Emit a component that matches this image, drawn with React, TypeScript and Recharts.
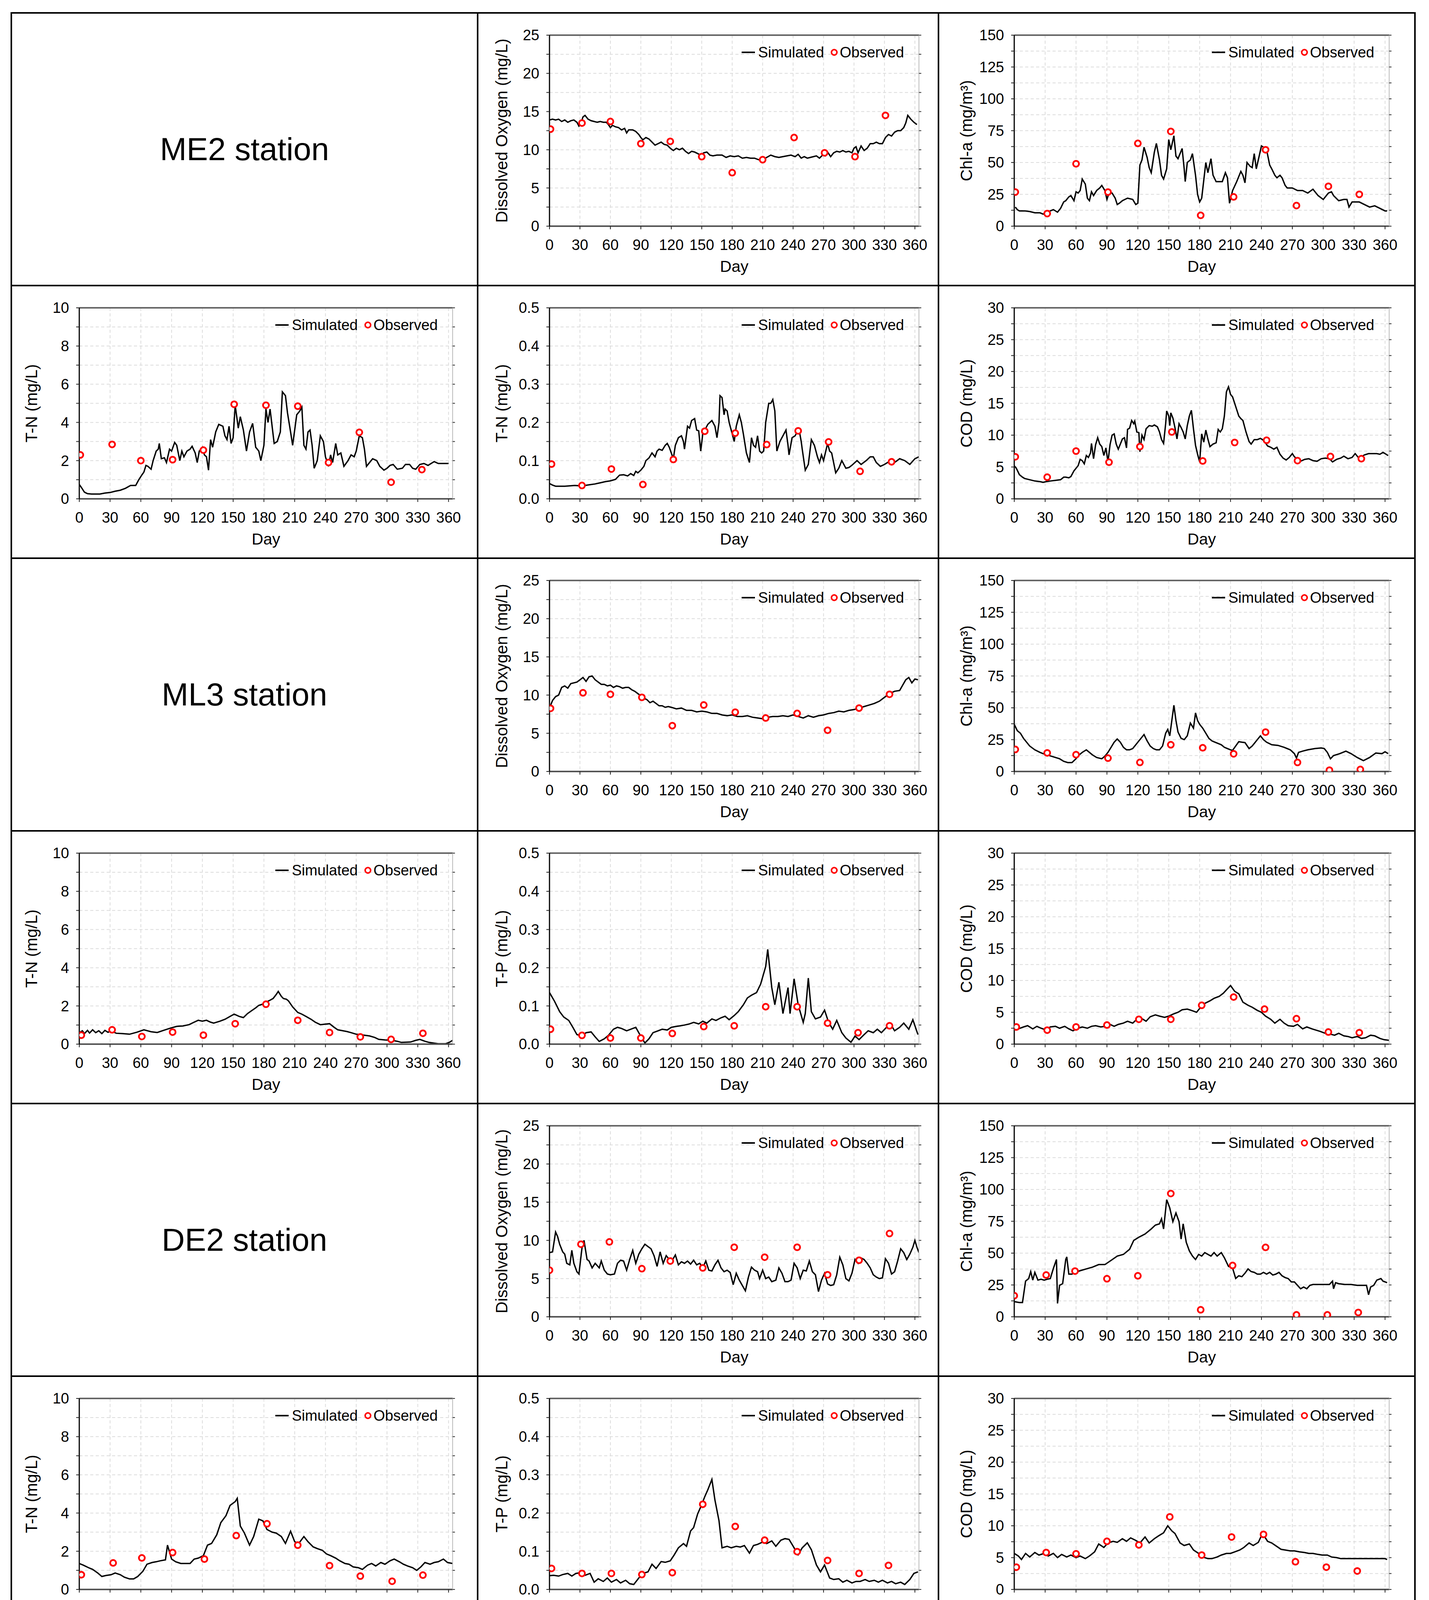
import React from 'react';
import { ComposedChart, Line, Scatter, XAxis, YAxis, CartesianGrid, ReferenceLine } from 'recharts';

type Pt = [number, number];

const FONT = '"Liberation Sans", Arial, Helvetica, sans-serif';
const ROW_H = 698;
const COL_W = [1194, 1180, 1220];
const BORDER = 2;
const PLOT_L = [172, 182, 192];
const PLOT_R = [62, 48, 64];
const PLOT_T = 55;
const PLOT_H = 489;

// tick labels
const dayTicks = [0, 30, 60, 90, 120, 150, 180, 210, 240, 270, 300, 330, 360];
const doTicks = [0, 2.5, 5, 7.5, 10, 12.5, 15, 17.5, 20, 22.5, 25];
const chlTicks = [0, 12.5, 25, 37.5, 50, 62.5, 75, 87.5, 100, 112.5, 125, 137.5, 150];
const tnTicks = [0, 1, 2, 3, 4, 5, 6, 7, 8, 9, 10];
const smallTicks = [0, 0.05, 0.1, 0.15, 0.2, 0.25, 0.3, 0.35, 0.4, 0.45, 0.5];
const codTicks = [0, 2.5, 5, 7.5, 10, 12.5, 15, 17.5, 20, 22.5, 25, 27.5, 30];

const stations = ['ME2 station', 'ML3 station', 'DE2 station', 'DL2 station'];

// ---------- ME2 ----------
const me2DoSim: Pt[] = [[0,13.9],[3,14.0],[6,13.9],[9,14.0],[12,13.7],[15,13.9],[18,13.6],[21,13.8],[24,13.9],[27,13.6],[29,13.1],[31,13.5],[33,14.3],[35,14.5],[38,14.0],[41,13.8],[44,13.7],[47,13.6],[50,13.7],[53,13.6],[56,13.6],[58,13.3],[60,12.9],[62,13.2],[65,13.0],[68,12.9],[71,12.6],[74,12.8],[76,12.2],[78,12.6],[82,12.6],[85,12.4],[88,12.0],[90,11.6],[92,11.3],[95,11.6],[98,11.4],[101,11.0],[104,10.6],[107,10.8],[110,11.0],[113,10.7],[116,10.6],[119,10.2],[122,9.9],[125,10.2],[128,10.0],[131,10.2],[134,9.8],[137,9.5],[140,9.8],[143,9.7],[146,9.5],[149,9.3],[152,9.6],[155,9.7],[158,9.3],[161,9.2],[165,9.3],[170,9.3],[174,9.0],[178,9.2],[182,9.1],[186,9.2],[190,8.9],[194,9.0],[198,8.9],[202,8.9],[206,8.7],[210,8.7],[214,9.0],[218,9.3],[222,9.1],[226,9.0],[230,9.1],[234,9.2],[238,9.3],[242,9.1],[245,9.4],[248,8.9],[251,9.1],[254,8.9],[257,9.0],[260,9.1],[263,9.2],[266,8.9],[269,9.3],[272,9.2],[274,9.7],[277,9.1],[280,9.6],[283,9.8],[286,9.7],[289,9.9],[292,9.7],[295,9.8],[298,9.6],[300,10.2],[302,10.4],[304,9.6],[307,10.5],[310,9.9],[313,10.2],[316,10.8],[319,10.8],[322,11.0],[325,10.8],[328,10.8],[331,11.6],[334,12.0],[337,11.8],[340,12.3],[343,12.5],[346,12.5],[349,12.9],[351,13.5],[353,14.5],[356,14.0],[359,13.6],[362,13.3]];
const me2DoObs: Pt[] = [[1,12.7],[32,13.5],[60,13.7],[90,10.8],[119,11.1],[150,9.1],[180,7.0],[210,8.7],[241,11.6],[271,9.6],[301,9.1],[331,14.5]];

const me2ChlSim: Pt[] = [[1,15],[3,13],[5,12],[10,12],[15,11.5],[20,10.5],[25,10.5],[28,9.5],[30,10],[33,11],[35,12],[38,13],[40,12],[42,11],[45,14],[48,19],[50,20],[53,23],[55,24],[58,20],[60,27],[62,26],[64,28],[66,37],[69,33],[71,22],[73,20],[75,27],[77,24],[80,28],[83,30],[85,32],[88,28],[90,21],[92,26],[95,26],[98,22],[100,17],[102,18],[105,20],[110,22],[115,21],[118,17],[120,18],[122,48],[124,52],[126,62],[129,54],[131,46],[133,42],[136,58],[138,65],[141,52],[143,40],[145,37],[148,45],[150,68],[152,60],[155,71],[157,55],[159,53],[163,61],[165,45],[166,35],[168,50],[171,52],[173,57],[176,40],[178,25],[180,19],[182,22],[186,50],[188,42],[191,53],[193,40],[196,35],[199,35],[202,35],[205,42],[207,38],[209,18],[212,28],[216,35],[220,43],[222,40],[224,34],[226,50],[229,47],[231,46],[233,57],[235,45],[240,63],[242,62],[245,60],[248,48],[250,45],[253,40],[255,38],[258,40],[260,38],[263,32],[265,30],[270,30],[275,28],[280,28],[285,26],[290,29],[295,24],[300,21],[305,26],[308,27],[310,24],[315,20],[320,21],[323,21],[325,15],[328,19],[330,19],[335,19],[340,17],[345,15],[350,16],[355,14],[360,12],[362,12]];
const me2ChlObs: Pt[] = [[1,26.8],[32,9.9],[60,49],[91,26.8],[120,65],[152,74.4],[181,8.5],[213,23],[244,60],[274,16.2],[305,31.3],[335,25]];

const me2TnSim: Pt[] = [[0,0.75],[2,0.6],[5,0.35],[8,0.27],[12,0.25],[16,0.25],[20,0.25],[25,0.3],[30,0.33],[35,0.4],[40,0.45],[45,0.55],[50,0.7],[55,0.7],[58,1.0],[61,1.25],[63,1.4],[65,1.75],[67,1.7],[70,1.55],[72,2.0],[75,2.5],[77,2.6],[78,2.9],[80,2.1],[83,2.15],[85,1.9],[88,2.6],[90,2.5],[93,2.95],[95,2.8],[98,2.0],[100,2.5],[102,2.2],[105,2.5],[108,2.6],[110,2.75],[113,2.4],[115,1.9],[117,2.5],[120,2.7],[122,2.3],[124,2.2],[126,1.5],[128,3.1],[130,2.7],[133,3.5],[136,3.9],[140,3.8],[142,3.3],[144,3.1],[146,3.8],[148,2.9],[150,3.2],[152,4.9],[155,3.7],[157,4.3],[160,3.6],[163,2.5],[166,3.5],[169,3.95],[172,2.7],[175,2.5],[177,2.0],[180,2.8],[182,4.7],[184,4.0],[186,4.7],[188,3.8],[190,2.9],[193,3.0],[196,3.5],[198,5.6],[201,5.4],[203,4.5],[206,3.5],[208,2.8],[210,3.6],[212,4.4],[215,4.6],[217,4.8],[219,2.8],[221,2.6],[223,3.5],[225,3.6],[227,2.8],[229,1.6],[232,2.0],[235,3.3],[238,3.0],[240,2.2],[243,1.7],[245,2.3],[247,1.9],[250,2.9],[252,2.3],[255,2.4],[258,1.7],[262,2.0],[265,2.3],[268,2.2],[270,2.5],[273,3.3],[276,3.2],[278,2.6],[280,1.7],[283,1.9],[286,2.1],[290,2.0],[293,1.7],[297,1.5],[300,1.6],[303,1.75],[306,1.8],[310,1.55],[315,1.6],[318,1.8],[322,1.8],[325,1.6],[328,1.55],[332,1.8],[336,1.85],[340,1.75],[343,1.85],[346,1.95],[350,1.85],[355,1.85],[360,1.85]];
const me2TnObs: Pt[] = [[1,2.3],[32,2.85],[60,2.0],[91,2.05],[121,2.55],[151,4.95],[182,4.9],[213,4.85],[243,1.9],[273,3.48],[304,0.87],[334,1.53]];

const me2Tn2Sim: Pt[] = [[0,0.04],[3,0.036],[6,0.033],[10,0.033],[15,0.033],[20,0.034],[25,0.035],[30,0.034],[35,0.035],[40,0.037],[45,0.039],[50,0.042],[55,0.045],[60,0.047],[65,0.051],[69,0.062],[73,0.063],[77,0.06],[80,0.066],[83,0.061],[85,0.072],[87,0.068],[90,0.075],[93,0.085],[95,0.1],[98,0.107],[101,0.12],[104,0.11],[106,0.125],[108,0.13],[111,0.127],[114,0.14],[116,0.145],[118,0.135],[120,0.12],[122,0.105],[124,0.14],[127,0.16],[130,0.165],[132,0.15],[133,0.13],[136,0.19],[138,0.185],[140,0.205],[143,0.21],[145,0.18],[147,0.178],[149,0.125],[151,0.17],[153,0.18],[156,0.195],[160,0.205],[163,0.19],[165,0.16],[167,0.2],[168,0.27],[170,0.265],[172,0.22],[173,0.235],[175,0.23],[177,0.2],[180,0.17],[182,0.15],[184,0.19],[187,0.22],[189,0.2],[191,0.17],[194,0.12],[197,0.095],[199,0.16],[201,0.14],[203,0.135],[205,0.165],[207,0.125],[209,0.12],[211,0.125],[213,0.2],[216,0.25],[218,0.25],[220,0.26],[222,0.23],[224,0.125],[227,0.15],[230,0.165],[233,0.18],[235,0.14],[236,0.115],[239,0.16],[242,0.165],[244,0.175],[246,0.18],[248,0.15],[249,0.13],[252,0.075],[255,0.09],[258,0.155],[261,0.14],[264,0.11],[266,0.095],[268,0.115],[270,0.1],[274,0.145],[276,0.125],[278,0.12],[282,0.068],[285,0.08],[288,0.1],[292,0.08],[295,0.082],[298,0.088],[303,0.1],[307,0.09],[312,0.1],[316,0.11],[319,0.11],[322,0.095],[326,0.085],[330,0.09],[336,0.1],[340,0.095],[345,0.105],[350,0.1],[355,0.09],[360,0.105],[364,0.11]];
const me2Tn2Obs: Pt[] = [[2,0.091],[32,0.035],[61,0.078],[92,0.0375],[122,0.103],[153,0.177],[183,0.172],[214,0.142],[245,0.178],[275,0.149],[306,0.072],[337,0.097]];

const me2CodSim: Pt[] = [[0,5.2],[2,4.8],[5,3.8],[8,3.4],[10,3.2],[15,3.0],[20,2.8],[25,2.7],[28,2.6],[31,2.7],[35,2.8],[40,2.9],[45,3.0],[48,3.4],[50,3.4],[53,3.3],[55,3.5],[58,4.4],[60,4.8],[62,5.2],[64,6.2],[66,6.0],[68,5.5],[70,6.8],[72,6.5],[74,7.2],[75,8.7],[77,6.3],[79,8.5],[81,9.6],[83,8.6],[85,8.2],[87,6.8],[89,8.0],[91,5.8],[93,8.5],[95,10.0],[97,10.2],[99,8.6],[101,7.8],[103,8.6],[105,9.4],[107,9.6],[109,8.0],[110,10.9],[112,11.1],[114,12.3],[116,11.8],[117,12.2],[119,10.5],[121,10.4],[122,7.4],[124,10.0],[126,9.3],[128,11.0],[131,11.5],[134,11.4],[136,11.6],[139,11.3],[141,10.5],[143,9.3],[145,8.7],[147,11.8],[148,13.8],[150,13.0],[151,11.5],[152,13.5],[154,12.7],[156,11.2],[158,9.4],[160,11.8],[162,11.2],[164,10.5],[166,9.4],[168,11.5],[170,13.0],[172,13.9],[174,11.0],[176,8.4],[178,7.0],[180,5.8],[182,10.2],[184,8.9],[186,10.8],[188,9.4],[190,8.2],[193,8.6],[196,8.8],[198,10.9],[200,10.5],[202,11.0],[204,13.0],[206,16.8],[208,17.6],[210,16.4],[212,16.0],[214,15.0],[216,14.0],[218,13.0],[220,12.6],[222,12.3],[225,10.5],[228,9.0],[230,8.6],[233,9.3],[236,9.3],[239,9.5],[241,9.3],[243,9.0],[246,8.3],[249,8.1],[252,7.8],[255,8.1],[258,7.0],[261,6.4],[264,6.1],[267,6.5],[270,7.1],[272,6.6],[275,6.2],[278,5.9],[282,6.2],[286,6.3],[290,6.0],[294,5.9],[298,6.3],[302,6.4],[306,6.3],[309,5.8],[313,6.2],[317,6.4],[320,6.7],[324,6.3],[328,6.5],[331,7.1],[334,6.5],[336,6.5],[340,6.9],[344,7.1],[348,7.1],[352,7.1],[355,7.0],[358,7.3],[360,7.1],[363,6.8]];
const me2CodObs: Pt[] = [[1,6.6],[32,3.4],[60,7.5],[92,5.75],[122,8.2],[153,10.5],[183,5.95],[214,8.85],[245,9.2],[275,6.0],[307,6.65],[337,6.3]];

// ---------- ML3 ----------
const ml3DoSim: Pt[] = [[0,8.3],[3,9.3],[6,9.8],[9,10.0],[12,11.0],[15,11.2],[18,10.9],[21,11.5],[24,11.6],[27,11.7],[30,12.0],[33,12.3],[36,11.8],[39,12.4],[42,12.5],[45,12.0],[48,11.7],[51,11.4],[54,11.4],[57,11.2],[60,11.3],[63,11.0],[66,11.2],[69,11.1],[72,10.9],[75,11.0],[78,11.0],[81,10.7],[84,10.5],[87,10.2],[90,9.9],[93,9.6],[96,9.4],[99,9.0],[102,9.2],[105,8.9],[108,8.6],[111,8.6],[114,8.4],[117,8.5],[120,8.4],[125,8.2],[130,8.3],[135,8.0],[140,8.0],[145,7.8],[150,7.9],[155,7.8],[160,7.6],[165,7.6],[170,7.4],[175,7.3],[180,7.4],[185,7.2],[190,7.2],[195,7.3],[200,7.1],[205,7.0],[210,6.9],[215,7.1],[220,7.2],[225,7.2],[230,7.3],[235,7.2],[240,7.4],[245,7.2],[250,7.0],[255,7.3],[260,7.1],[265,7.3],[270,7.4],[275,7.6],[280,7.7],[285,7.9],[290,7.8],[295,8.0],[300,8.1],[305,8.3],[310,8.5],[315,8.7],[320,8.9],[325,9.2],[330,9.7],[335,10.2],[340,10.5],[345,10.6],[348,11.3],[351,12.0],[354,12.3],[357,11.6],[360,12.1],[363,12.0]];
const ml3DoObs: Pt[] = [[1,8.26],[33,10.3],[60,10.1],[91,9.7],[121,6.0],[152,8.7],[183,7.76],[213,7.0],[244,7.6],[274,5.4],[305,8.3],[335,10.1]];

const ml3ChlSim: Pt[] = [[0,37],[3,32],[6,30],[9,26],[12,23],[15,20],[20,17],[25,15],[28,14],[32,13],[36,12],[40,11],[44,10],[48,8],[52,7],[56,7],[60,10],[63,13],[66,15],[70,17],[73,15],[76,13],[80,11],[85,10],[88,12],[91,15],[94,19],[97,23],[100,25.5],[103,23],[106,19],[109,17],[112,17],[115,18],[118,21],[121,24],[124,27],[126,29],[129,24],[132,20],[135,18],[138,17],[141,17],[144,20],[147,30],[149,33],[151,28],[153,40],[155,52],[157,40],[159,31],[162,26],[165,25],[168,28],[171,38],[174,34],[176,46],[178,40],[180,37],[183,34],[186,30],[189,26],[192,24],[195,23],[198,22],[201,21],[204,19],[207,18],[210,17],[212,16.6],[215,20],[218,23.4],[221,23],[224,22.7],[228,18],[231,20],[233,22],[236,25],[239,28],[242,25],[245,23],[250,21],[256,20.5],[262,19],[268,17],[272,14],[274,10.5],[276,15],[280,16],[285,17],[292,18],[298,18.5],[301,18],[304,15],[307,10],[310,12.5],[316,14],[322,16],[327,14],[333,11],[339,8.5],[345,11],[351,14.5],[357,14],[360,15.5],[363,14]];
const ml3ChlObs: Pt[] = [[1,17.3],[32,14.6],[60,13.2],[91,10.5],[122,7.1],[152,21],[183,18.6],[213,13.9],[244,30.9],[275,7.1],[306,1.0],[336,1.6]];

const ml3TnSim: Pt[] = [[0,0.6],[3,0.7],[5,0.55],[8,0.72],[10,0.58],[13,0.75],[16,0.6],[19,0.7],[22,0.55],[25,0.72],[28,0.62],[31,0.7],[36,0.57],[42,0.55],[49,0.52],[56,0.62],[63,0.75],[70,0.65],[76,0.61],[82,0.72],[89,0.84],[95,0.93],[101,0.95],[107,1.02],[112,1.15],[116,1.25],[120,1.2],[124,1.25],[128,1.15],[131,1.1],[137,1.2],[142,1.3],[147,1.45],[151,1.57],[156,1.45],[160,1.39],[164,1.6],[168,1.75],[172,1.9],[175,2.03],[179,2.1],[182,2.2],[186,2.3],[189,2.39],[192,2.6],[194,2.76],[197,2.5],[199,2.39],[202,2.35],[204,2.26],[208,1.95],[213,1.66],[217,1.57],[221,1.45],[226,1.3],[230,1.15],[235,1.02],[240,1.05],[244,1.07],[248,0.9],[252,0.75],[257,0.7],[261,0.66],[265,0.6],[270,0.52],[276,0.48],[283,0.43],[288,0.35],[292,0.25],[298,0.22],[305,0.2],[310,0.15],[314,0.09],[319,0.1],[323,0.11],[328,0.2],[332,0.25],[337,0.15],[341,0.09],[346,0.05],[350,0.02],[357,0.02],[361,0.1],[364,0.2]];
const ml3TnObs: Pt[] = [[2,0.47],[32,0.75],[61,0.4],[91,0.63],[121,0.47],[152,1.07],[182,2.09],[213,1.25],[244,0.61],[274,0.38],[304,0.25],[335,0.57]];

const ml3TpSim: Pt[] = [[0,0.135],[5,0.112],[10,0.085],[14,0.071],[19,0.062],[23,0.044],[27,0.025],[32,0.021],[36,0.03],[41,0.032],[45,0.019],[49,0.007],[54,0.014],[58,0.023],[63,0.039],[67,0.044],[71,0.041],[76,0.035],[80,0.039],[85,0.044],[89,0.025],[94,0.003],[98,0.014],[102,0.03],[107,0.035],[111,0.039],[116,0.037],[120,0.044],[124,0.046],[129,0.048],[133,0.05],[138,0.053],[142,0.057],[147,0.053],[151,0.06],[155,0.055],[160,0.066],[164,0.062],[169,0.069],[173,0.073],[177,0.064],[182,0.075],[186,0.085],[191,0.103],[195,0.121],[199,0.128],[204,0.135],[208,0.157],[213,0.203],[215,0.248],[219,0.148],[222,0.103],[226,0.162],[230,0.08],[235,0.148],[237,0.08],[241,0.171],[245,0.103],[250,0.057],[252,0.08],[255,0.173],[258,0.085],[262,0.066],[267,0.071],[271,0.089],[275,0.057],[279,0.039],[283,0.062],[288,0.03],[292,0.016],[297,0.005],[301,0.021],[305,0.012],[310,0.025],[314,0.035],[319,0.03],[323,0.039],[327,0.03],[332,0.044],[336,0.053],[340,0.035],[345,0.044],[349,0.055],[354,0.039],[358,0.064],[363,0.025]];
const ml3TpObs: Pt[] = [[1,0.039],[32,0.023],[60,0.016],[90,0.016],[121,0.028],[152,0.046],[182,0.048],[213,0.098],[244,0.098],[274,0.055],[304,0.03],[335,0.048]];

const ml3CodSim: Pt[] = [[0,2.8],[4,2.4],[9,2.7],[13,2.9],[18,2.4],[22,2.8],[26,2.5],[31,2.2],[35,2.7],[40,2.8],[44,2.5],[49,2.8],[53,2.4],[57,2.1],[62,2.5],[66,2.7],[71,2.5],[75,2.8],[79,2.9],[84,2.7],[88,2.8],[93,3.1],[97,2.8],[101,3.1],[106,3.3],[110,3.6],[115,3.3],[119,3.9],[124,4.0],[128,3.6],[132,4.3],[137,4.6],[141,4.4],[146,4.2],[150,4.4],[154,4.7],[159,5.0],[163,5.4],[168,5.5],[172,5.3],[177,5.0],[181,5.8],[185,6.4],[190,6.8],[194,7.2],[199,7.5],[203,8.0],[207,8.7],[210,9.2],[214,8.3],[218,7.9],[222,6.6],[227,6.1],[231,5.8],[236,5.3],[240,5.0],[244,4.4],[249,3.9],[253,3.3],[258,3.9],[262,3.3],[266,2.9],[271,2.8],[275,3.1],[280,2.4],[284,2.7],[289,2.4],[293,2.2],[297,2.0],[302,1.7],[306,1.6],[311,1.4],[315,1.7],[320,1.3],[324,1.2],[328,1.0],[333,1.2],[337,0.9],[341,1.0],[346,1.4],[350,1.3],[355,0.9],[359,0.7],[364,0.6]];
const ml3CodObs: Pt[] = [[2,2.7],[32,2.2],[60,2.7],[90,3.0],[121,3.9],[152,3.9],[182,6.1],[213,7.4],[243,5.5],[274,4.0],[305,1.9],[335,1.8]];

// ---------- DE2 ----------
const deDoSim: Pt[] = [[0,8.4],[3,8.5],[6,11.1],[8,10.5],[10,9.5],[13,8.5],[15,8.2],[17,7.0],[20,6.8],[22,8.7],[24,7.0],[27,5.9],[29,5.6],[32,9.0],[34,10.0],[37,7.5],[39,7.3],[42,6.4],[45,7.0],[49,6.4],[51,7.3],[54,6.1],[57,5.6],[60,5.5],[64,5.6],[67,7.0],[70,7.4],[73,7.3],[76,6.1],[79,7.5],[82,8.7],[85,7.0],[88,8.2],[91,8.9],[94,9.5],[97,9.2],[100,8.9],[103,8.0],[106,6.6],[109,8.5],[112,7.0],[115,8.0],[118,7.5],[121,7.4],[124,8.1],[127,6.8],[130,7.2],[133,7.0],[136,7.3],[139,6.9],[142,7.4],[145,6.8],[148,7.0],[151,6.4],[154,7.3],[157,6.1],[160,6.0],[163,6.8],[166,7.4],[169,6.4],[172,5.9],[175,6.1],[178,5.8],[181,4.2],[184,5.7],[187,4.8],[190,4.1],[193,3.4],[196,5.2],[199,6.5],[202,6.1],[205,5.9],[207,5.0],[210,6.1],[213,5.0],[216,5.2],[219,4.6],[223,4.8],[226,6.4],[229,5.7],[232,4.6],[235,4.6],[238,4.8],[241,7.0],[244,6.4],[247,5.0],[250,6.1],[253,6.0],[256,7.3],[259,5.9],[262,5.5],[265,3.3],[268,4.8],[271,5.7],[274,4.3],[277,4.1],[280,4.2],[283,5.5],[286,7.8],[289,6.8],[292,5.0],[295,4.7],[298,5.7],[301,7.5],[304,7.0],[307,7.7],[310,7.5],[313,7.0],[316,6.4],[319,5.5],[322,5.2],[325,5.0],[328,5.1],[331,7.6],[334,7.0],[337,5.6],[340,5.9],[343,7.3],[346,8.9],[349,8.4],[352,7.5],[355,8.2],[358,9.1],[360,10.0],[362,9.1],[364,8.4]];
const deDoObs: Pt[] = [[0,6.1],[31,9.5],[59,9.8],[91,6.3],[119,7.3],[151,6.4],[182,9.1],[212,7.8],[244,9.1],[274,5.5],[305,7.4],[335,10.9]];

const deChlSim: Pt[] = [[0,11.9],[5,11.2],[8,11.2],[11,28],[14,30],[16,35.5],[18,28.8],[20,34.9],[23,28.8],[26,29.5],[29,28.8],[32,29.5],[35,30],[38,38],[41,45],[42,10.5],[44,24.7],[47,26],[50,45],[51,47],[53,33.5],[56,33.5],[59,34.9],[64,36.2],[70,37.6],[76,39],[82,41],[88,41],[94,44.3],[100,47.7],[106,49],[112,53],[116,60],[121,62.5],[127,65],[133,69],[137,72],[141,73],[143,77],[145,69],[148,92],[151,85.5],[154,74.7],[157,81.5],[160,74.7],[162,61],[164,73],[167,58.5],[170,51.8],[173,47.7],[176,45],[179,49],[182,47.7],[185,50.4],[188,49],[191,47.7],[194,50.4],[197,47.7],[201,50.4],[204,46.4],[208,39.6],[212,38.2],[215,30.1],[218,32.2],[221,31.5],[224,34.2],[227,37.6],[230,35.5],[233,34.9],[236,33.5],[239,33.5],[242,34.9],[245,33.5],[248,34.9],[251,32.8],[254,33.5],[257,34.9],[260,32.2],[263,30.8],[266,30],[269,27.4],[272,27.4],[275,24.7],[278,22],[281,23.4],[284,22],[287,24.7],[290,25.4],[300,25.4],[306,25.4],[309,28],[310,22],[312,26.8],[315,26],[321,25.4],[327,25.4],[333,24.7],[342,24.7],[344,17.3],[346,23.4],[349,24.7],[352,28.8],[356,30],[358,28],[362,26.8]];
const deChlObs: Pt[] = [[0,16.6],[31,32.8],[59,35.9],[90,29.9],[120,32.2],[152,96.8],[181,5.5],[212,40.3],[244,54.5],[274,1.5],[304,1.5],[334,3.4]];

const deTnSim: Pt[] = [[0,1.36],[4,1.27],[9,1.14],[13,1.05],[18,0.86],[22,0.68],[26,0.73],[31,0.77],[35,0.86],[40,0.77],[44,0.64],[49,0.55],[53,0.55],[57,0.68],[62,0.95],[66,1.32],[71,1.41],[75,1.45],[79,1.5],[84,1.55],[86,2.32],[90,1.59],[94,1.45],[99,1.36],[103,1.36],[108,1.36],[112,1.59],[116,1.64],[121,1.77],[125,2.32],[129,2.41],[134,2.86],[138,3.5],[143,3.86],[147,4.4],[152,4.6],[154,4.77],[157,3.32],[161,2.95],[166,2.32],[170,2.77],[175,3.68],[179,3.59],[183,3.14],[188,3.0],[192,2.95],[197,2.77],[201,2.41],[206,3.05],[210,2.5],[214,2.41],[219,2.77],[223,2.5],[228,2.23],[232,2.14],[237,2.05],[241,1.86],[245,1.77],[250,1.64],[254,1.5],[259,1.36],[263,1.32],[267,1.18],[272,1.14],[276,1.05],[281,1.27],[285,1.36],[289,1.23],[294,1.41],[298,1.32],[303,1.5],[307,1.59],[312,1.45],[316,1.32],[320,1.23],[325,1.14],[329,1.0],[333,1.18],[337,1.41],[342,1.32],[346,1.41],[350,1.45],[355,1.59],[359,1.41],[364,1.36]];
const deTnObs: Pt[] = [[2,0.77],[33,1.39],[61,1.65],[91,1.93],[122,1.59],[153,2.82],[183,3.44],[213,2.32],[244,1.25],[274,0.7],[305,0.43],[335,0.75]];

const deTpSim: Pt[] = [[0,0.036],[4,0.037],[9,0.035],[13,0.039],[18,0.042],[22,0.035],[26,0.042],[31,0.044],[35,0.037],[40,0.042],[44,0.019],[48,0.028],[53,0.021],[57,0.03],[61,0.019],[66,0.026],[70,0.017],[75,0.024],[79,0.015],[83,0.013],[88,0.03],[92,0.042],[97,0.046],[101,0.066],[105,0.055],[110,0.073],[114,0.071],[119,0.075],[123,0.091],[127,0.109],[132,0.12],[135,0.113],[139,0.153],[142,0.162],[146,0.198],[149,0.216],[153,0.243],[156,0.261],[160,0.288],[163,0.234],[167,0.18],[170,0.109],[175,0.113],[179,0.109],[184,0.113],[188,0.111],[192,0.115],[197,0.095],[201,0.115],[205,0.118],[210,0.124],[214,0.12],[219,0.127],[223,0.113],[228,0.129],[232,0.133],[236,0.131],[241,0.109],[245,0.091],[249,0.109],[254,0.122],[258,0.104],[263,0.064],[267,0.046],[271,0.064],[276,0.03],[280,0.026],[285,0.028],[289,0.019],[293,0.024],[298,0.017],[302,0.021],[306,0.021],[311,0.026],[315,0.021],[320,0.024],[324,0.019],[328,0.024],[333,0.017],[337,0.021],[341,0.015],[346,0.019],[350,0.013],[355,0.026],[359,0.042],[363,0.046]];
const deTpObs: Pt[] = [[2,0.055],[32,0.042],[61,0.042],[91,0.039],[121,0.044],[151,0.223],[183,0.165],[212,0.129],[244,0.099],[274,0.076],[305,0.042],[334,0.063]];

const deCodSim: Pt[] = [[0,5.66],[4,5.25],[7,4.7],[11,5.66],[15,5.1],[20,5.8],[24,5.4],[29,5.66],[33,5.25],[38,5.66],[42,5.0],[46,5.5],[51,5.1],[55,5.4],[60,5.0],[64,5.25],[69,4.84],[73,5.25],[78,5.9],[82,7.15],[87,6.6],[91,7.3],[96,7.56],[100,7.4],[105,7.97],[109,7.56],[113,8.1],[118,7.7],[122,7.3],[127,8.24],[131,7.3],[136,7.97],[140,8.4],[145,8.9],[149,10.0],[153,9.2],[156,8.8],[161,7.3],[165,6.9],[170,7.15],[174,6.2],[179,5.66],[183,5.1],[188,4.84],[192,4.84],[197,5.1],[201,5.4],[206,5.66],[210,5.66],[214,5.9],[219,6.2],[223,6.6],[228,7.3],[232,6.9],[237,7.4],[241,8.8],[246,7.56],[250,7.3],[255,6.75],[259,6.3],[263,6.2],[268,6.06],[272,6.06],[277,5.9],[282,5.8],[286,5.66],[290,5.66],[295,5.5],[299,5.4],[304,5.4],[308,5.1],[313,5.0],[317,4.84],[326,4.84],[335,4.84],[344,4.84],[353,4.84],[360,4.84],[362,4.7]];
const deCodObs: Pt[] = [[2,3.5],[31,5.8],[60,5.6],[90,7.56],[121,7.0],[151,11.4],[182,5.4],[211,8.24],[242,8.65],[273,4.35],[303,3.5],[333,2.9]];

// ---------- DL2 ----------
const dlDoSim: Pt[] = [[0,7.9],[3,9.1],[5,9.9],[8,8.45],[11,8.9],[14,9.2],[17,9.8],[20,9.1],[23,8.8],[26,9.4],[29,9.6],[32,10.5],[35,10.0],[38,10.5],[41,10.7],[44,10.0],[47,9.8],[50,9.4],[53,8.7],[56,9.4],[59,8.9],[62,9.8],[65,10.0],[67,10.9],[70,9.4],[73,9.6],[76,9.1],[79,10.3],[82,10.3],[85,10.0],[88,9.6],[91,9.8],[94,9.5],[97,9.1],[100,9.0],[103,8.7],[106,8.9],[108,8.2],[111,8.3],[114,7.9],[117,7.8],[120,8.0],[123,7.8],[126,8.2],[129,7.8],[132,7.3],[135,7.2],[138,7.5],[141,7.9],[144,7.3],[147,6.7],[150,7.3],[153,7.0],[156,6.6],[159,6.9],[162,6.5],[165,7.1],[168,7.4],[171,7.0],[174,6.5],[177,6.7],[180,7.0],[183,6.7],[186,7.1],[189,6.4],[192,5.8],[195,5.3],[198,5.9],[201,6.6],[204,5.5],[207,5.7],[210,6.4],[213,6.9],[216,6.5],[219,5.6],[222,5.0],[225,5.9],[228,6.9],[231,6.9],[234,6.2],[237,7.0],[240,6.6],[243,7.1],[246,6.6],[249,7.0],[252,6.6],[255,7.1],[257,6.6],[260,6.9],[263,6.3],[266,6.9],[269,7.4],[272,6.4],[275,6.1],[278,7.3],[281,7.8],[284,8.0],[287,7.8],[290,8.0],[293,7.2],[296,6.6],[299,8.0],[302,8.45],[305,8.0],[308,7.9],[311,8.3],[314,8.9],[317,9.0],[320,8.45],[323,9.1],[326,8.3],[329,9.1],[332,9.2],[335,8.45],[338,8.3],[341,8.3],[344,8.3],[347,9.6],[350,10.5],[352,10.7],[355,10.9],[358,11.5],[361,11.6],[363,11.4]];
const dlDoObs: Pt[] = [[1,6.4],[32,9.6],[60,8.6],[91,8.3],[121,6.8],[152,9.8],[183,7.8],[214,6.7],[244,8.45],[275,5.8],[306,8.0],[336,9.7]];

const dlChlSim: Pt[] = [[0,13.9],[2,22],[5,22.8],[8,26],[11,30],[14,29],[17,24],[20,24.8],[23,31.6],[26,27.5],[29,25.5],[32,37],[35,25.5],[38,31.6],[41,37],[44,43.9],[47,39],[50,34.3],[53,38.4],[56,35.7],[59,26],[62,29],[65,41],[68,37],[71,43.9],[74,49.3],[77,58.9],[80,49.3],[83,45],[86,46.6],[87,54.8],[89,26],[92,30],[95,35.7],[98,41],[101,48],[104,38.4],[107,46.6],[110,53.4],[112,38.4],[115,37],[118,43.9],[121,48],[124,50.7],[127,57.5],[130,61.6],[133,78],[136,71],[138,65.7],[140,79],[143,76.6],[146,87.5],[148,92],[151,88.6],[154,88.6],[157,86],[160,73.8],[163,58.9],[166,64.3],[169,58.9],[172,60.2],[175,52],[178,46.6],[181,44.5],[184,45.2],[187,42.5],[190,41],[193,38.4],[196,34.3],[199,30],[202,26],[205,29],[208,34.3],[211,35.7],[214,30],[217,24.8],[220,29],[222,30],[225,30],[228,31.6],[231,35.7],[234,39.8],[237,35.7],[240,31.6],[243,41],[246,53.4],[249,50.7],[252,42.5],[255,45.2],[258,41],[261,39.8],[264,42.5],[267,41],[270,43.9],[273,41.8],[276,38.4],[279,41.8],[282,37],[285,35.7],[288,33.6],[291,31.6],[294,30.9],[297,30],[300,29],[303,31.6],[306,29.6],[309,27.5],[312,27.5],[315,25.5],[318,22],[321,19.3],[324,18],[327,18.7],[330,18],[333,17.3],[336,19.3],[338,18],[341,20],[344,19.3],[347,20],[350,20],[353,22],[356,26],[359,26],[362,24],[364,21.4]];
const dlChlObs: Pt[] = [[0,16.3],[31,32.3],[59,35.4],[92,29.6],[121,31.9],[152,96.3],[182,5.0],[213,39.8],[244,54.1],[274,1.0],[305,1.0],[336,3.3]];

const dlTnSim: Pt[] = [[0,0.54],[4,0.68],[7,0.72],[11,0.68],[14,0.72],[18,0.63],[21,0.99],[25,1.53],[28,1.26],[32,0.81],[35,1.35],[39,1.8],[43,1.17],[46,0.81],[50,1.44],[53,1.62],[57,1.8],[60,1.44],[64,0.63],[67,0.99],[71,1.44],[74,1.71],[78,1.9],[82,1.08],[85,0.63],[89,1.35],[92,1.62],[96,1.17],[99,1.99],[103,1.17],[106,0.9],[110,1.08],[113,1.26],[117,0.9],[121,0.72],[124,1.44],[128,1.62],[131,1.71],[135,1.67],[138,1.71],[142,1.62],[145,2.17],[149,2.53],[152,2.17],[156,1.99],[160,2.53],[163,2.8],[166,2.08],[168,2.89],[172,3.61],[176,2.98],[179,2.44],[183,2.62],[186,2.71],[190,2.35],[193,2.17],[197,1.99],[200,2.17],[204,2.89],[207,2.17],[211,1.9],[215,1.26],[218,0.54],[221,0.18],[223,0.63],[227,1.26],[230,1.26],[234,1.17],[238,1.08],[241,0.9],[245,0.54],[248,0.27],[252,0.23],[255,0.36],[259,0.32],[262,0.36],[266,0.5],[270,0.27],[273,0.23],[277,0.32],[280,0.27],[284,0.23],[287,0.45],[291,0.5],[294,0.41],[298,0.54],[301,0.41],[305,0.5],[309,0.59],[312,0.54],[316,0.59],[319,0.5],[323,0.54],[326,0.59],[330,0.45],[333,0.5],[337,0.54],[340,0.45],[344,0.5],[348,0.45],[351,0.5],[355,0.41],[358,0.5],[362,0.45]];
const dlTnObs: Pt[] = [[0,0.68],[31,1.04],[60,0.43],[90,1.47],[120,0.68],[152,1.47],[181,1.83],[211,1.74],[242,0.86],[272,0.54],[304,0.3],[333,0.47]];

const dlTpSim: Pt[] = [[0,0.034],[4,0.049],[7,0.052],[11,0.036],[14,0.029],[18,0.04],[21,0.043],[25,0.038],[28,0.031],[32,0.043],[36,0.052],[39,0.04],[43,0.031],[46,0.025],[50,0.036],[53,0.047],[57,0.034],[60,0.043],[64,0.052],[68,0.056],[71,0.047],[75,0.049],[78,0.061],[82,0.09],[85,0.056],[89,0.02],[92,0.061],[96,0.085],[100,0.056],[103,0.031],[107,0.04],[110,0.047],[114,0.029],[117,0.02],[121,0.038],[124,0.061],[128,0.049],[132,0.036],[135,0.052],[139,0.047],[142,0.031],[146,0.043],[149,0.083],[153,0.11],[156,0.083],[160,0.065],[164,0.092],[167,0.074],[171,0.061],[174,0.083],[178,0.092],[181,0.09],[185,0.101],[188,0.128],[192,0.137],[196,0.121],[199,0.139],[203,0.146],[206,0.141],[210,0.119],[213,0.106],[217,0.115],[220,0.11],[224,0.117],[228,0.101],[231,0.108],[235,0.097],[238,0.099],[242,0.124],[245,0.092],[249,0.083],[252,0.076],[256,0.085],[260,0.07],[263,0.076],[267,0.074],[270,0.065],[274,0.056],[277,0.036],[281,0.072],[284,0.043],[288,0.031],[292,0.038],[295,0.043],[299,0.038],[302,0.031],[306,0.036],[309,0.04],[313,0.034],[316,0.043],[320,0.049],[324,0.038],[327,0.043],[331,0.049],[334,0.047],[338,0.061],[341,0.056],[345,0.043],[348,0.038],[352,0.025],[356,0.007],[359,0.002],[364,0.002]];
const dlTpObs: Pt[] = [[0,0.034],[31,0.047],[60,0.021],[91,0.026],[121,0.035],[151,0.085],[182,0.049],[213,0.124],[244,0.099],[274,0.061],[304,0.04],[335,0.042]];

const dlCodSim: Pt[] = [[0,1.76],[4,2.7],[9,2.3],[13,2.57],[18,3.25],[22,3.1],[26,3.8],[31,4.6],[35,4.74],[40,4.33],[44,4.06],[49,4.47],[53,4.2],[57,3.5],[62,4.87],[66,6.2],[71,7.2],[75,5.0],[79,6.5],[84,6.77],[88,5.96],[93,5.4],[97,5.0],[101,4.74],[106,4.47],[110,4.33],[115,4.74],[119,4.87],[124,5.4],[128,5.28],[132,5.7],[137,5.55],[141,5.96],[146,6.23],[150,6.36],[154,6.5],[159,6.9],[163,7.45],[168,8.26],[172,9.48],[177,8.12],[181,6.77],[185,5.96],[190,5.4],[194,5.7],[199,6.5],[203,6.5],[207,6.77],[212,6.5],[216,5.96],[221,5.7],[225,5.28],[229,5.15],[234,4.87],[238,5.0],[243,4.87],[247,4.74],[251,4.47],[256,4.33],[260,4.47],[265,4.2],[269,4.33],[274,4.06],[278,3.5],[282,3.38],[287,3.25],[291,2.7],[296,3.1],[300,2.57],[305,2.3],[309,2.7],[313,2.98],[318,2.44],[322,2.98],[327,2.44],[331,3.1],[335,2.7],[340,3.38],[342,3.65],[346,2.17],[350,1.76],[353,2.44],[357,1.62],[362,0.68]];
const dlCodObs: Pt[] = [[2,2.84],[33,4.66],[60,3.25],[90,3.93],[121,4.96],[152,6.31],[182,4.74],[212,7.77],[243,5.0],[274,4.39],[304,2.98],[334,2.76]];

interface AxisSpec { label: string; ticks: number[]; major: number; dec: number }

const doAxis: AxisSpec = { label: 'Dissolved Oxygen (mg/L)', ticks: doTicks, major: 5, dec: 0 };
const chlAxis: AxisSpec = { label: 'Chl-a (mg/m³)', ticks: chlTicks, major: 25, dec: 0 };
const tnAxis: AxisSpec = { label: 'T-N (mg/L)', ticks: tnTicks, major: 2, dec: 0 };
const tnSmallAxis: AxisSpec = { label: 'T-N (mg/L)', ticks: smallTicks, major: 0.1, dec: 1 };
const tpAxis: AxisSpec = { label: 'T-P (mg/L)', ticks: smallTicks, major: 0.1, dec: 1 };
const codAxis: AxisSpec = { label: 'COD (mg/L)', ticks: codTicks, major: 5, dec: 0 };

type Cell = { station: string } | { axis: AxisSpec; sim: Pt[]; obs: Pt[] };

const rows: Cell[][] = [
  [{ station: stations[0] }, { axis: doAxis, sim: me2DoSim, obs: me2DoObs }, { axis: chlAxis, sim: me2ChlSim, obs: me2ChlObs }],
  [{ axis: tnAxis, sim: me2TnSim, obs: me2TnObs }, { axis: tnSmallAxis, sim: me2Tn2Sim, obs: me2Tn2Obs }, { axis: codAxis, sim: me2CodSim, obs: me2CodObs }],
  [{ station: stations[1] }, { axis: doAxis, sim: ml3DoSim, obs: ml3DoObs }, { axis: chlAxis, sim: ml3ChlSim, obs: ml3ChlObs }],
  [{ axis: tnAxis, sim: ml3TnSim, obs: ml3TnObs }, { axis: tpAxis, sim: ml3TpSim, obs: ml3TpObs }, { axis: codAxis, sim: ml3CodSim, obs: ml3CodObs }],
  [{ station: stations[2] }, { axis: doAxis, sim: deDoSim, obs: deDoObs }, { axis: chlAxis, sim: deChlSim, obs: deChlObs }],
  [{ axis: tnAxis, sim: deTnSim, obs: deTnObs }, { axis: tpAxis, sim: deTpSim, obs: deTpObs }, { axis: codAxis, sim: deCodSim, obs: deCodObs }],
  [{ station: stations[3] }, { axis: doAxis, sim: dlDoSim, obs: dlDoObs }, { axis: chlAxis, sim: dlChlSim, obs: dlChlObs }],
  [{ axis: tnAxis, sim: dlTnSim, obs: dlTnObs }, { axis: tpAxis, sim: dlTpSim, obs: dlTpObs }, { axis: codAxis, sim: dlCodSim, obs: dlCodObs }],
];

const VTitle = (props: any) => (
  <text x={props.tx} y={props.ty} transform={`rotate(-90 ${props.tx} ${props.ty})`} textAnchor="middle"
    dominantBaseline="central" fontSize={42} fontFamily={FONT} fill="#000">{props.text}</text>
);

const HTitle = (props: any) => (
  <text x={props.tx} y={props.ty} textAnchor="middle" fontSize={41} fontFamily={FONT} fill="#000">{props.text}</text>
);

const ObsDot = (props: any) => (
  <circle cx={props.cx} cy={props.cy} r={7.5} fill="#fff" stroke="#ff0000" strokeWidth={4.5} />
);

const LegendBox = ({ right, top }: { right: number; top: number }) => (
  <div style={{ position: 'absolute', right, top, height: 44, display: 'flex', alignItems: 'center',
    fontFamily: FONT, fontSize: 38, color: '#000', whiteSpace: 'nowrap' }}>
    <span style={{ display: 'inline-block', width: 34, height: 4, background: '#000', marginRight: 8 }} />
    <span>Simulated</span>
    <svg width={22} height={22} style={{ marginLeft: 15, marginRight: 3 }}>
      <circle cx={11} cy={11} r={7} fill="#fff" stroke="#ff0000" strokeWidth={4} />
    </svg>
    <span>Observed</span>
  </div>
);

function Panel({ axis, sim, obs, col }: { axis: AxisSpec; sim: Pt[]; obs: Pt[]; col: number }) {
  const w = COL_W[col] - 2 * BORDER;
  const h = ROW_H - 2 * BORDER;
  const left = PLOT_L[col];
  const right = PLOT_R[col];
  const plotW = w - left - right;
  const xAxisH = h - PLOT_T - PLOT_H;
  const yMax = axis.ticks[axis.ticks.length - 1];
  const simData = sim.map(([day, v]) => ({ day, v }));
  const obsData = obs.map(([day, v]) => ({ day, v }));
  const fmt = (v: number) => {
    const q = v / axis.major;
    return Math.abs(q - Math.round(q)) < 1e-6 ? v.toFixed(axis.dec) : '';
  };
  const tickStyle = { fontSize: 38, fill: '#000', fontFamily: FONT };
  return (
    <div style={{ position: 'relative', width: w, height: h }}>
      <ComposedChart width={w} height={h} margin={{ top: PLOT_T, right: 0, bottom: 0, left: 0 }}>
        <CartesianGrid yAxisId="l" stroke="#dcdcdc" strokeDasharray="8 6" strokeWidth={2} />
        <XAxis type="number" dataKey="day" domain={[0, 364]} ticks={dayTicks} interval={0} allowDataOverflow
          height={xAxisH} tick={tickStyle} tickSize={8} tickMargin={26}
          tickLine={{ stroke: '#222', strokeWidth: 2 }} axisLine={{ stroke: '#555', strokeWidth: 4 }}
          label={<HTitle tx={left + plotW / 2} ty={PLOT_T + PLOT_H + 117} text="Day" />} />
        <YAxis yAxisId="l" type="number" domain={[0, yMax]} ticks={axis.ticks} interval={0} allowDataOverflow
          width={left} tick={tickStyle} tickFormatter={fmt} tickSize={8} tickMargin={18}
          tickLine={{ stroke: '#222', strokeWidth: 2 }} axisLine={{ stroke: '#000', strokeWidth: 3 }}
          label={<VTitle tx={left - 123} ty={PLOT_T + PLOT_H / 2} text={axis.label} />} />
        <YAxis yAxisId="r" orientation="right" type="number" domain={[0, yMax]} ticks={axis.ticks} interval={0}
          allowDataOverflow width={right} tickFormatter={() => ''} tickSize={6}
          tickLine={{ stroke: '#333', strokeWidth: 2 }} axisLine={{ stroke: '#bbb', strokeWidth: 2 }} />
        <ReferenceLine yAxisId="l" y={yMax} stroke="#666" strokeWidth={4} />
        <Line yAxisId="l" data={simData} dataKey="v" type="linear" stroke="#000" strokeWidth={3.5}
          dot={false} isAnimationActive={false} />
        <Scatter yAxisId="l" data={obsData} dataKey="v" shape={ObsDot} isAnimationActive={false} />
      </ComposedChart>
      <LegendBox right={right + 38} top={PLOT_T + 22} />
    </div>
  );
}

export default function App() {
  return (
    <div style={{ position: 'absolute', left: 0, top: 0, width: 3659, height: 5655, background: '#fff' }}>
      <div style={{ position: 'absolute', left: 27, top: 31, border: `${BORDER}px solid #000`, display: 'flex', flexDirection: 'column' }}>
        {rows.map((row, i) => (
          <div key={i} style={{ display: 'flex' }}>
            {row.map((cell, j) => (
              <div key={j} style={{ width: COL_W[j], height: ROW_H, boxSizing: 'border-box', border: `${BORDER}px solid #000` }}>
                {'station' in cell ? (
                  <div style={{ width: '100%', height: '100%', display: 'flex', alignItems: 'center', justifyContent: 'center',
                    fontFamily: FONT, fontSize: 82, color: '#000' }}>{cell.station}</div>
                ) : (
                  <Panel axis={cell.axis} sim={cell.sim} obs={cell.obs} col={j} />
                )}
              </div>
            ))}
          </div>
        ))}
      </div>
    </div>
  );
}
